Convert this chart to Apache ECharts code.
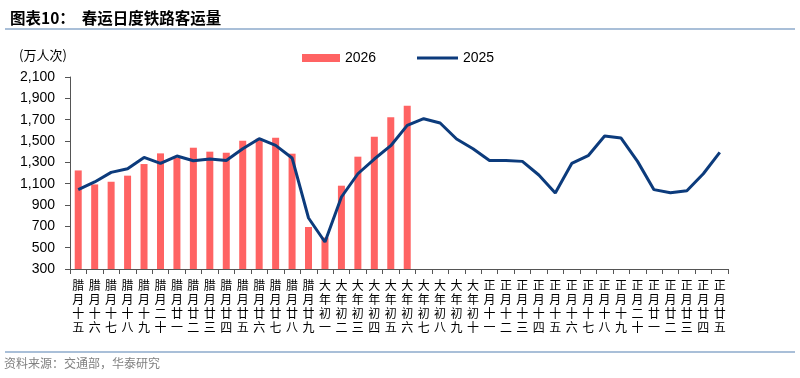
<!DOCTYPE html>
<html>
<head>
<meta charset="utf-8">
<script src="https://cdn.jsdelivr.net/npm/echarts@6/dist/echarts.min.js"></script>
<style>
html,body{margin:0;padding:0;background:#fff;}
#chart{width:800px;height:378px;}
</style>
</head>
<body>
<div id="chart"></div>
<script>
const categories = [
  '腊月十五','腊月十六','腊月十七','腊月十八','腊月十九','腊月二十','腊月廿一','腊月廿二','腊月廿三','腊月廿四',
  '腊月廿五','腊月廿六','腊月廿七','腊月廿八','腊月廿九',
  '大年初一','大年初二','大年初三','大年初四','大年初五','大年初六','大年初七','大年初八','大年初九','大年初十',
  '正月十一','正月十二','正月十三','正月十四','正月十五','正月十六','正月十七','正月十八','正月十九','正月二十',
  '正月廿一','正月廿二','正月廿三','正月廿四','正月廿五'
];
const values2026 = [1224,1093,1118,1175,1284,1384,1341,1437,1400,1390,1503,1522,1531,1381,694,595,1081,1353,1540,1722,1831];
const values2025 = [1044,1116,1206,1240,1346,1290,1359,1315,1331,1318,1427,1522,1459,1341,778,553,975,1193,1331,1456,1646,1709,1669,1519,1428,1318,1318,1309,1181,1013,1290,1362,1547,1528,1309,1044,1015,1034,1193,1393];
const yTicks = {min:300, max:2100, interval:200};
const titleText = '图表10：  春运日度铁路客运量';
const unitText = '(万人次)';
const sourceText = '资料来源：交通部，华泰研究';

const chart = echarts.init(document.getElementById('chart'), null, {renderer:'canvas'});
const option = {
  animation:false,
  backgroundColor:'#fff',
  title:{
    text:titleText, left:5, top:5,
    textStyle:{fontSize:15.5, fontWeight:'bold', color:'#000', fontFamily:'"Noto Sans CJK SC", sans-serif'}
  },
  legend:[
    {data:[{name:'2026', icon:'rect'}], left:297, top:46, itemWidth:38, itemHeight:8, itemGap:4,
     textStyle:{fontSize:14, color:'#000', fontFamily:'"Liberation Sans", Arial, sans-serif'}},
    {data:[{name:'2025', icon:'rect'}], left:412, top:46, itemWidth:41, itemHeight:3, itemGap:4,
     textStyle:{fontSize:14, color:'#000', fontFamily:'"Liberation Sans", Arial, sans-serif'}}
  ],
  grid:{left:70, right:72, top:77, bottom:109, containLabel:false},
  xAxis:{
    type:'category', data:categories, boundaryGap:true,
    axisLine:{lineStyle:{color:'#555', width:1}},
    axisTick:{show:true, length:5, lineStyle:{color:'#555'}},
    axisLabel:{
      interval:0, margin:9, fontSize:12, lineHeight:14, color:'#000',
      fontFamily:'"Noto Sans CJK SC", sans-serif',
      formatter:v=>v.split('').join('\n')
    }
  },
  yAxis:{
    type:'value', min:yTicks.min, max:yTicks.max, interval:yTicks.interval,
    splitLine:{show:false},
    axisLine:{show:true, lineStyle:{color:'#555', width:1}},
    axisTick:{show:true, length:5, lineStyle:{color:'#555'}},
    axisLabel:{fontSize:14, color:'#000', margin:15,
      fontFamily:'"Liberation Sans", Arial, sans-serif',
      formatter:v=>v.toLocaleString('en-US')}
  },
  graphic:[
    {type:'text', left:19, top:49, style:{text:unitText, fontSize:13, fill:'#000', fontFamily:'"Noto Sans CJK SC", sans-serif'}},
    {type:'line', shape:{x1:5, y1:29, x2:795, y2:29}, style:{stroke:'#A9BFD8', lineWidth:2}},
    {type:'line', shape:{x1:5, y1:352, x2:795, y2:352}, style:{stroke:'#A9BFD8', lineWidth:2}},
    {type:'text', left:4, top:357, style:{text:sourceText, fontSize:12, fill:'#808080', fontFamily:'"Noto Sans CJK SC", sans-serif'}}
  ],
  series:[
    {name:'2026', type:'bar', data:values2026, barWidth:7, itemStyle:{color:'#FF6363'}},
    {name:'2025', type:'line', data:values2025, symbol:'none', showSymbol:false,
     lineStyle:{color:'#0C3B7C', width:3}, itemStyle:{color:'#0C3B7C'}}
  ]
};
chart.setOption(option);
</script>
</body>
</html>
